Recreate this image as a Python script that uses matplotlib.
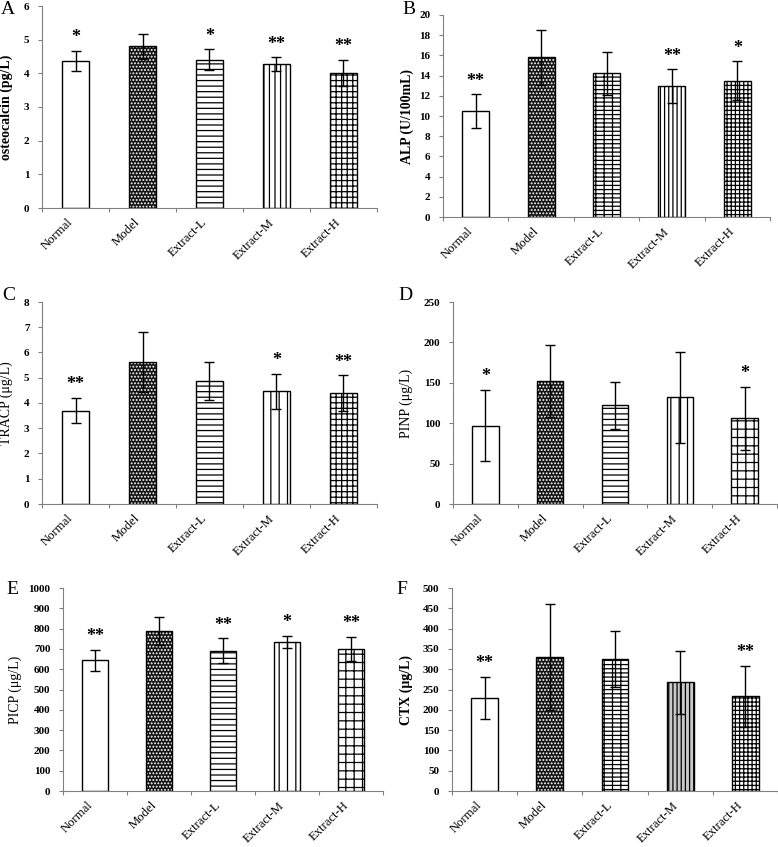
import numpy as np
import matplotlib.pyplot as plt

plt.rcParams['font.family'] = ['Liberation Serif', 'DejaVu Serif']
plt.rcParams['hatch.linewidth'] = 0.9

groups = ['Normal', 'Model', 'Extract-L', 'Extract-M', 'Extract-H']

# A - osteocalcin
ost_mean = [4.36, 4.81, 4.41, 4.28, 4.02]
ost_sd = [0.30, 0.37, 0.30, 0.20, 0.39]
ost_sig = ['*', '', '*', '**', '**']

# B - ALP
alp_mean = [10.50, 15.80, 14.23, 12.98, 13.48]
alp_sd = [1.65, 2.75, 2.15, 1.65, 1.94]
alp_sig = ['**', '', '', '**', '*']

# C - TRACP
tracp_mean = [3.70, 5.62, 4.86, 4.46, 4.40]
tracp_sd = [0.50, 1.18, 0.75, 0.70, 0.70]
tracp_sig = ['**', '', '', '*', '**']

# D - PINP
pinp_mean = [97, 152, 122, 132, 106]
pinp_sd = [44, 44.5, 29.5, 56.5, 39]
pinp_sig = ['*', '', '', '', '*']

# E - PICP
picp_mean = [643, 789, 692, 735, 700]
picp_sd = [52, 68, 60, 31, 60]
picp_sig = ['**', '', '**', '*', '**']

# F - CTX
ctx_mean = [230, 330, 325, 268, 233]
ctx_sd = [52, 130, 70, 78, 76]
ctx_sig = ['**', '', '', '', '**']

W, H = 778, 847
fig = plt.figure(figsize=(W / 100, H / 100), dpi=100)


def rect(l, r, t, b):
    return [l / W, 1 - b / H, (r - l) / W, (b - t) / H]


def panel(box, mean, sd, sig, ymax, ystep, ylabel, letter, letter_px,
          hatches, labx, bold, mface='white'):
    ax = fig.add_axes(box)
    x = np.arange(len(groups))
    bw = 0.41
    for i in range(len(groups)):
        if i == 1:
            # dark bar with white dots
            ax.bar(x[i], mean[i], bw, color='#141414', edgecolor='white',
                   hatch=hatches[i], lw=0, zorder=2)
            ax.bar(x[i], mean[i], bw, fill=False, edgecolor='black',
                   lw=1.0, zorder=3)
        else:
            fc = mface if i == 3 else 'white'
            ax.bar(x[i], mean[i], bw, facecolor=fc, edgecolor='black',
                   hatch=hatches[i], lw=1.0, zorder=2)
    ax.errorbar(x, mean, yerr=sd, fmt='none', ecolor='black', elinewidth=1.0,
                capsize=3.5, capthick=1.0, zorder=4)
    for i, s in enumerate(sig):
        if s:
            ax.text(x[i], mean[i] + sd[i] + 0.065 * ymax, s, ha='center',
                    va='center', fontsize=13, fontweight='bold')

    ax.set_xlim(-0.5, len(groups) - 0.5)
    ax.set_ylim(0, ymax)
    ax.set_yticks(np.arange(0, ymax + ystep / 2, ystep))
    for lab in ax.get_yticklabels():
        lab.set_fontweight('bold')
    ax.tick_params(axis='y', labelsize=8, length=3, color='#808080',
                   width=0.8, pad=6)

    ax.set_xticks(np.arange(-0.5, len(groups), 1))
    ax.set_xticklabels([])
    ax.tick_params(axis='x', which='major', length=3, color='#808080', width=0.8)
    ax.set_xticks(x, minor=True)
    ax.set_xticklabels(groups, minor=True, rotation=45, ha='right', fontsize=9.2)
    ax.tick_params(axis='x', which='minor', length=0, pad=6)

    for sp in ['top', 'right']:
        ax.spines[sp].set_visible(False)
    for sp in ['left', 'bottom']:
        ax.spines[sp].set_color('#808080')
        ax.spines[sp].set_linewidth(0.8)

    ax.set_ylabel(ylabel, fontsize=10, fontweight='bold' if bold else 'normal')
    ax.yaxis.set_label_coords(labx, 0.5)

    fig.text(letter_px[0] / W, 1 - letter_px[1] / H, letter, fontsize=14,
             ha='center', va='center')
    return ax


panel(rect(42, 377, 6, 208), ost_mean, ost_sd, ost_sig, 6, 1,
      'osteocalcin (pg/L)', 'A', (8, 9),
      ['', '.....', '---', '|||', '+++'], -0.087, True)
panel(rect(443, 770, 15, 217), alp_mean, alp_sd, alp_sig, 20, 2,
      'ALP (U/100mL)', 'B', (409, 9),
      ['', '.....', '----||', '||||', '++++'], -0.089, True)
panel(rect(42, 377, 302, 504), tracp_mean, tracp_sd, tracp_sig, 8, 1,
      'TRACP (\u03bcg/L)', 'C', (9, 295),
      ['', '.....', '---', '||', '+++'], -0.087, False)
panel(rect(453, 777, 302, 504), pinp_mean, pinp_sd, pinp_sig, 250, 50,
      'PINP (\u03bcg/L)', 'D', (405, 295),
      ['', '.....', '---', '||', '++'], -0.123, False)
panel(rect(63, 383, 588, 791), picp_mean, picp_sd, picp_sig, 1000, 100,
      'PICP (\u03bcg/L)', 'E', (12, 590),
      ['', '.....', '---', '||', '++'], -0.128, False)
panel(rect(452, 778, 588, 791), ctx_mean, ctx_sd, ctx_sig, 500, 50,
      'CTX (\u03bcg/L)', 'F', (402, 590),
      ['', '.....', '----||', '||||', '++++'], -0.120, True, mface='#c8c8c8')

fig.savefig('out.png', dpi=100)
